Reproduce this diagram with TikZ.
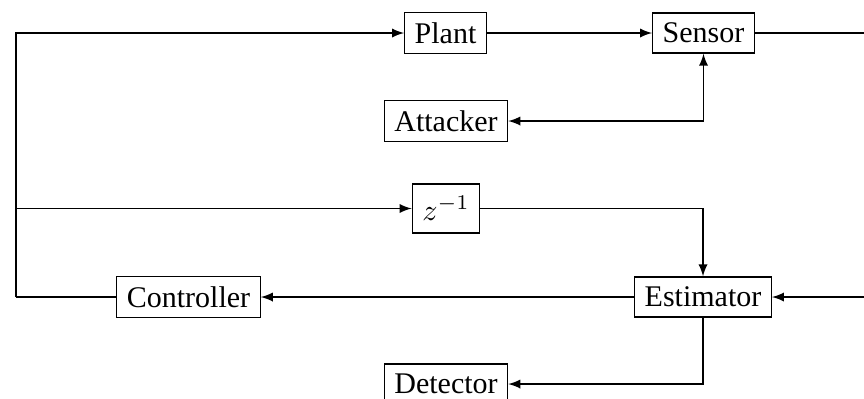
\documentclass[tikz,border=0pt]{standalone}
\usepackage{fontspec}
\setmainfont{Liberation Serif}
\usetikzlibrary{arrows}

\begin{document}
\begin{tikzpicture}[%
      x=0.3333pt, y=-0.3333pt,
      >=latex,
      block/.style={draw, rectangle, fill=white},
      ]
      \useasboundingbox (0,0) rectangle (864,398);

      \node[block] (plant) at (445.5,33) {Plant};
      \node[block] (sensor) at (703.5,33) {Sensor};
      \node[block] (attacker) at (446,121) {Attacker};
      \node[block, minimum height=16.3pt, minimum width=20.6pt] (zinv) at (446,208.5) {$z^{-1}$};
      \node[block] (controller) at (188.5,297) {Controller};
      \node[block] (estimator) at (703,297) {Estimator};
      \node[block] (detector) at (446,384) {Detector};

      \coordinate (bus) at (16,297);
      \coordinate (outtop) at (864,33);
      \coordinate (outbot) at (864,297);

      \draw [->] (plant) -- (sensor);
      \draw [<->] (attacker) -| (sensor);
      \draw (sensor) -- (outtop);
      \draw [->] (outbot) -- (estimator);
      \draw [->] (zinv) -| (estimator);
      \draw [->] (estimator) -- (controller);
      \draw [->] (estimator) |- (detector);
      \draw (controller) -- (bus);
      \draw [->] (bus) |- (plant);
      \draw [->] (bus) |- (zinv);
      \end{tikzpicture}
\end{document}
